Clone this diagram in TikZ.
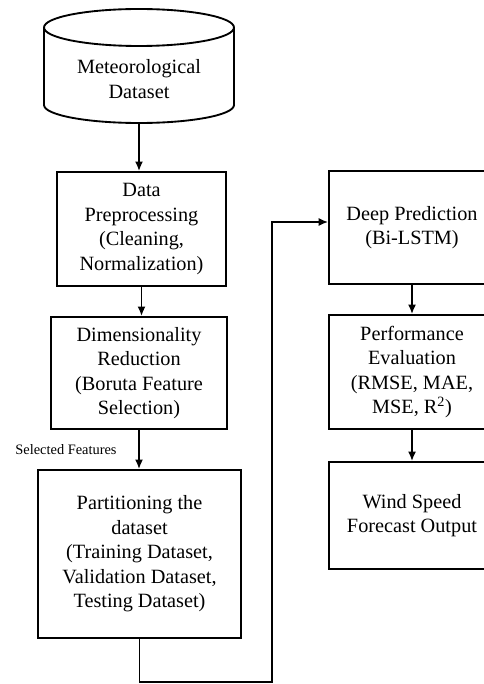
\documentclass[tikz,border=0pt]{standalone}
\usepackage{fontspec}
\setmainfont{Liberation Serif}
\usetikzlibrary{arrows.meta}

\tikzset{
	box/.style={draw, line width=1.6pt, align=center, inner sep=0pt,
		font=\fontsize{15.2}{18.4}\selectfont},
	flow/.style={line width=1.1pt, ->}
}

\begin{document}
\begin{tikzpicture}[x=0.75pt,y=0.75pt,>={Latex[length=7pt,width=6pt]}]
\useasboundingbox (0,0) rectangle (484,-684);
\clip (0,0) rectangle (484,-684);

%dataset cylinder
\draw [line width=1.4pt] (44,-27.5)--(44,-105) arc[start angle=180,end angle=360,x radius=95,y radius=18]--(234,-27.5);
\draw [line width=1.4pt] (139,-27.5) ellipse [x radius=95,y radius=18.5];
\node [box, draw=none] (meteo) at (139,-79) {Meteorological\\Dataset};
\coordinate (meteobot) at (139,-123);

%left column
\node [box, minimum width=169*0.75pt, minimum height=114*0.75pt] (prep) at (141.5,-229)
	{Data\\Preprocessing\\(Cleaning,\\Normalization)};
\node [box, minimum width=176*0.75pt, minimum height=112*0.75pt] (dimred) at (139,-373)
	{Dimensionality\\Reduction\\(Boruta Feature\\Selection)};
\node [box, minimum width=203*0.75pt, minimum height=168*0.75pt] (part) at (139.5,-554)
	{Partitioning the\\dataset\\(Training Dataset,\\Validation Dataset,\\Testing Dataset)};

%right column (cut off at the right edge)
\node [box, minimum width=166*0.75pt, minimum height=113*0.75pt] (deep) at (412,-227.5)
	{Deep Prediction\\(Bi-LSTM)};
\node [box, minimum width=166*0.75pt, minimum height=114*0.75pt] (perf) at (412,-372)
	{Performance\\Evaluation\\(RMSE, MAE,\\MSE, R\textsuperscript{2})};
\node [box, minimum width=166*0.75pt, minimum height=107*0.75pt] (wind) at (412,-515.5)
	{Wind Speed\\Forecast Output};

%label
\node [font=\fontsize{10.8}{13}\selectfont] (sel) at (66,-450) {Selected Features};

%arrows
\draw [flow] (meteobot)--(meteobot |- prep.north);
\draw [flow] (prep.south)--(prep.south |- dimred.north);
\draw [flow] (dimred.south)--(dimred.south |- part.north);
\draw [flow] (deep.south)--(deep.south |- perf.north);
\draw [flow] (perf.south)--(perf.south |- wind.north);

%part to deep
\coordinate (low) at (272,-682);
\coordinate (up) at (272,-222);
\draw [line width=1pt, ->] (part.south) |- (low)--(up)--(deep.west |- up);
\end{tikzpicture}
\end{document}
